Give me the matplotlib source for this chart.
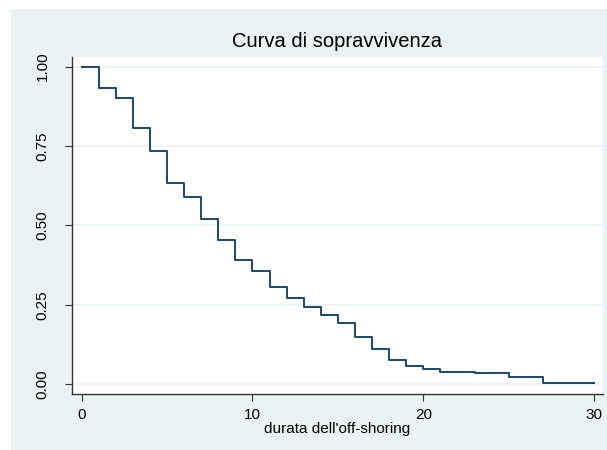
#!/usr/bin/env python3
"""
Curva di sopravvivenza - Kaplan-Meier step curve (Stata-like style)
"""

import matplotlib
matplotlib.use("Agg")
import matplotlib.pyplot as plt
from matplotlib.patches import Rectangle

# time at which each level starts, and survival level from that time on
times = [0, 1, 2, 3, 4, 5, 6, 7, 8, 9, 10, 11, 12, 13, 14, 15, 16, 17, 18, 19, 20, 21, 23, 25, 27, 30]
survival = [1.000, 0.932, 0.901, 0.808, 0.733, 0.634, 0.591, 0.520, 0.454, 0.392,
            0.356, 0.307, 0.271, 0.243, 0.218, 0.194, 0.149, 0.111, 0.077, 0.058,
            0.049, 0.039, 0.035, 0.022, 0.006, 0.006]

x_ticks = [0, 10, 20, 30]
y_ticks = [0.0, 0.25, 0.5, 0.75, 1.0]
y_tick_labels = ["0.00", "0.25", "0.50", "0.75", "1.00"]

BG = "#eaf2f3"
LINE = "#1a476f"

plt.rcParams['font.family'] = ['Liberation Sans', 'DejaVu Sans']

fig = plt.figure(figsize=(6.07, 4.5), dpi=100)
fig.patch.set_facecolor("white")
# light background panel, with thin white margin on top/left
fig.patches.append(Rectangle((11 / 607, 0), 1 - 11 / 607, 1 - 9 / 450,
                             transform=fig.transFigure, facecolor=BG,
                             edgecolor="none", zorder=-10))

ax = fig.add_axes([72 / 607, 1 - 394 / 450, (603 - 72) / 607, (394 - 57) / 450])
ax.set_facecolor("white")

ax.step(times, survival, where="post", color=LINE, linewidth=1.4)

ax.set_xlim(-0.56, 30.52)
ax.set_ylim(-0.03, 1.03)
ax.set_xticks(x_ticks)
ax.set_yticks(y_ticks)
ax.set_yticklabels(y_tick_labels, rotation=90, va="center")
ax.tick_params(axis="both", direction="out", length=5, width=0.8,
               color="#333333", labelsize=11)
ax.tick_params(axis="x", pad=5)
ax.tick_params(axis="y", pad=11)
ax.grid(True, axis="y", color=BG, linewidth=1.2)
ax.set_axisbelow(True)

for side in ["top", "right"]:
    ax.spines[side].set_visible(False)
for side in ["left", "bottom"]:
    ax.spines[side].set_color("#333333")
    ax.spines[side].set_linewidth(1.0)

ax.set_xlabel("durata dell'off-shoring", fontsize=11, labelpad=0)
ax.set_title("Curva di sopravvivenza", fontsize=14.5, pad=7)

plt.savefig("out.png", dpi=100, facecolor=fig.get_facecolor())
